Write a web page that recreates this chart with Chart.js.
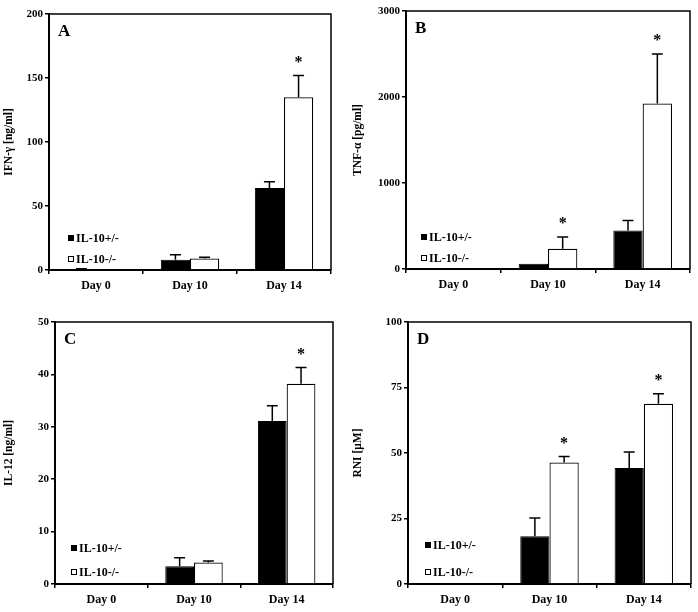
<!DOCTYPE html>
<html>
<head>
<meta charset="utf-8">
<script src="https://cdn.jsdelivr.net/npm/chart.js@4.4.1/dist/chart.umd.min.js"></script>
<style>
  html, body { margin: 0; padding: 0; background: #fff; }
  #wrap { position: relative; width: 698px; height: 612px; }
  canvas { position: absolute; }
</style>
</head>
<body>
<div id="wrap">
  <canvas id="chartA" width="349" height="306" style="left:0;top:0"></canvas>
  <canvas id="chartB" width="349" height="306" style="left:349px;top:0"></canvas>
  <canvas id="chartC" width="349" height="306" style="left:0;top:306px"></canvas>
  <canvas id="chartD" width="349" height="306" style="left:349px;top:306px"></canvas>
</div>
<script>
// shared labels
var categories = ['Day 0', 'Day 10', 'Day 14'];
var groups = ['IL-10+/-', 'IL-10-/-'];

// A: IFN-gamma
var ifnHet = [0.6, 8, 64];
var ifnHetSd = [0.4, 4, 5];
var ifnKo = [0, 9, 135];
var ifnKoSd = [0, 1, 17];
var ifnStars = [false, false, true];
var ifnTicks = [0, 50, 100, 150, 200];

// B: TNF-alpha
var tnfHet = [0, 62, 449];
var tnfHetSd = [0, 0, 116];
var tnfKo = [0, 236, 1924];
var tnfKoSd = [0, 136, 577];
var tnfStars = [false, true, true];
var tnfTicks = [0, 1000, 2000, 3000];

// C: IL-12
var il12Het = [0, 3.4, 31.1];
var il12HetSd = [0, 1.6, 2.9];
var il12Ko = [0, 4.1, 38.2];
var il12KoSd = [0, 0.3, 3.1];
var il12Stars = [false, false, true];
var il12Ticks = [0, 10, 20, 30, 40, 50];

// D: RNI
var rniHet = [0, 18.2, 44.3];
var rniHetSd = [0, 7.0, 6.1];
var rniKo = [0, 46.4, 68.8];
var rniKoSd = [0, 2.3, 3.8];
var rniStars = [false, true, true];
var rniTicks = [0, 25, 50, 75, 100];

var serif = '"Liberation Serif", "Times New Roman", serif';

// error bars, stars, frame, letter and legend
var extras = {
  id: 'extras',
  afterDatasetsDraw: function (chart, args, opts) {
    var ctx = chart.ctx;
    var y = chart.scales.y;
    var area = chart.chartArea;
    ctx.save();
    ctx.strokeStyle = '#000';
    ctx.fillStyle = '#000';
    ctx.lineWidth = 1.5;
    chart.data.datasets.forEach(function (ds, di) {
      var meta = chart.getDatasetMeta(di);
      meta.data.forEach(function (bar, i) {
        var sd = ds.sd[i];
        var top = y.getPixelForValue(ds.data[i] + sd);
        if (sd > 0) {
          ctx.beginPath();
          ctx.moveTo(bar.x, bar.y);
          ctx.lineTo(bar.x, top);
          ctx.moveTo(bar.x - 5.5, top);
          ctx.lineTo(bar.x + 5.5, top);
          ctx.stroke();
        }
        if (ds.stars && ds.stars[i]) {
          ctx.font = 'bold 16px ' + serif;
          ctx.textAlign = 'center';
          ctx.textBaseline = 'middle';
          ctx.fillText('*', bar.x, top - 13);
        }
      });
    });
    // frame top and right
    ctx.lineWidth = 1.5;
    ctx.beginPath();
    ctx.moveTo(area.left, area.top);
    ctx.lineTo(area.right, area.top);
    ctx.lineTo(area.right, area.bottom);
    ctx.stroke();
    // panel letter
    ctx.font = 'bold 17px ' + serif;
    ctx.textAlign = 'left';
    ctx.textBaseline = 'alphabetic';
    ctx.fillText(opts.letter, area.left + 9, area.top + 22);
    // legend
    ctx.font = 'bold 12px ' + serif;
    ctx.textBaseline = 'middle';
    chart.data.datasets.forEach(function (ds, di) {
      var ly = area.bottom - opts.legendY[di];
      var lx = area.left + opts.legendX;
      ctx.fillStyle = ds.backgroundColor;
      ctx.fillRect(lx, ly - 3, 6, 6);
      ctx.lineWidth = 1;
      ctx.strokeStyle = '#000';
      ctx.strokeRect(lx + 0.5, ly - 2.5, 5, 5);
      ctx.fillStyle = '#000';
      ctx.fillText(ds.label, lx + 8, ly + 0.5);
    });
    ctx.restore();
  }
};

function makePanel(id, p) {
  var ctx = document.getElementById(id).getContext('2d');
  var config = {
    type: 'bar',
    data: {
      labels: categories,
      datasets: [{
        label: groups[0],
        data: p.het,
        sd: p.hetSd,
        backgroundColor: '#000',
        borderColor: '#000',
        borderWidth: 1
      }, {
        label: groups[1],
        data: p.ko,
        sd: p.koSd,
        stars: p.stars,
        backgroundColor: '#fff',
        borderColor: '#000',
        borderWidth: 1.2
      }]
    },
    options: {
      responsive: false,
      animation: false,
      categoryPercentage: 0.62,
      barPercentage: 1,
      layout: { padding: { top: p.top, right: p.right, left: 0, bottom: 0 } },
      plugins: {
        legend: { display: false },
        tooltip: { enabled: false },
        extras: { letter: p.letter, legendX: p.legendX, legendY: p.legendY }
      },
      scales: {
        x: {
          afterFit: function (s) { s.height = p.xh; },
          border: { color: '#000', width: 2 },
          grid: { drawOnChartArea: false, color: '#000', lineWidth: 1.5, tickLength: 4 },
          ticks: { color: '#000', padding: 5, font: { family: serif, size: 12, weight: 'bold' } }
        },
        y: {
          min: p.ticks[0],
          max: p.ticks[p.ticks.length - 1],
          afterFit: function (s) { s.width = p.yw; },
          afterBuildTicks: function (s) {
            s.ticks = p.ticks.map(function (v) { return { value: v }; });
          },
          border: { color: '#000', width: 2 },
          grid: { drawOnChartArea: false, color: '#000', lineWidth: 1.5, tickLength: 4 },
          ticks: {
            color: '#000',
            padding: 2,
            font: { family: serif, size: 11, weight: 'bold' },
            callback: function (v) { return String(v); }
          },
          title: {
            display: true,
            text: p.title,
            color: '#000',
            padding: { top: 2, bottom: 2 },
            font: { family: serif, size: 11.5, weight: 'bold' }
          }
        }
      }
    },
    plugins: [extras]
  };
  return new Chart(ctx, config);
}

makePanel('chartA', {
  het: ifnHet, hetSd: ifnHetSd, ko: ifnKo, koSd: ifnKoSd, stars: ifnStars, ticks: ifnTicks,
  title: 'IFN-\u03b3 [ng/ml]', letter: 'A',
  yw: 49, xh: 36, top: 14, right: 18, legendX: 19, legendY: [32, 11]
});
makePanel('chartB', {
  het: tnfHet, hetSd: tnfHetSd, ko: tnfKo, koSd: tnfKoSd, stars: tnfStars, ticks: tnfTicks,
  title: 'TNF-\u03b1 [pg/ml]', letter: 'B',
  yw: 57, xh: 37, top: 11, right: 8, legendX: 15, legendY: [32, 11]
});
makePanel('chartC', {
  het: il12Het, hetSd: il12HetSd, ko: il12Ko, koSd: il12KoSd, stars: il12Stars, ticks: il12Ticks,
  title: 'IL-12 [ng/ml]', letter: 'C',
  yw: 55, xh: 28, top: 16, right: 16, legendX: 16, legendY: [36, 12]
});
makePanel('chartD', {
  het: rniHet, hetSd: rniHetSd, ko: rniKo, koSd: rniKoSd, stars: rniStars, ticks: rniTicks,
  title: 'RNI [\u03bcM]', letter: 'D',
  yw: 59, xh: 28, top: 16, right: 7, legendX: 17, legendY: [39, 12]
});
</script>
</body>
</html>
